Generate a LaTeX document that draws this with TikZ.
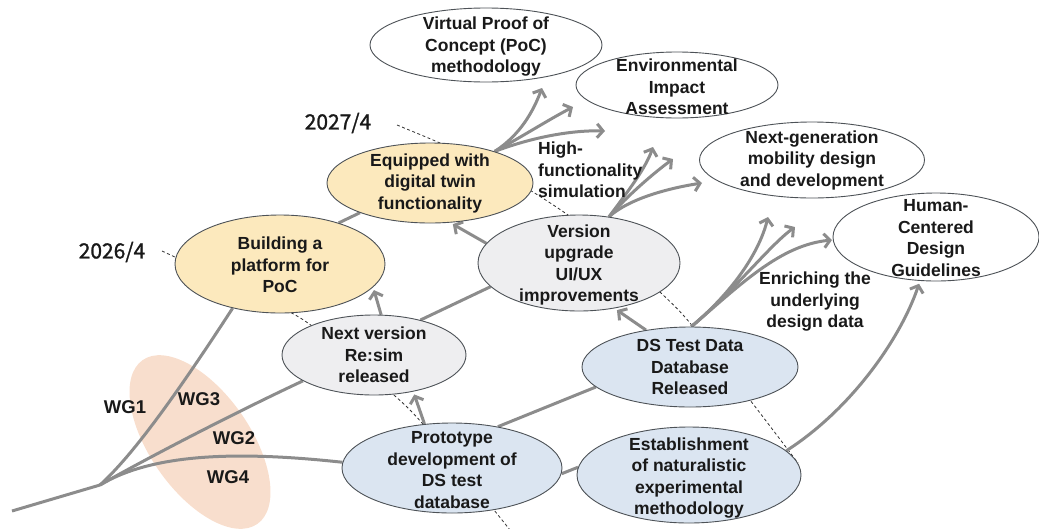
\documentclass[tikz,border=0pt]{standalone}
\usepackage{fontspec}
\setmainfont{Liberation Sans}
\newfontfamily\jpfont[FakeBold=1.2]{Noto Sans CJK JP}
\usetikzlibrary{shapes.geometric,arrows.meta}
\definecolor{lg}{HTML}{8C8C8C}
\definecolor{bord}{HTML}{4D5257}
\definecolor{yel}{HTML}{FCE9BD}
\definecolor{gry}{HTML}{EEEEF0}
\definecolor{blu}{HTML}{DBE5F1}
\definecolor{salm}{HTML}{F8DECD}
\pgfdeclarelayer{bg}
\pgfsetlayers{bg,main}
\begin{document}
\begin{tikzpicture}[x=1pt,y=-1pt,
  ell/.style={ellipse, draw=bord, line width=0.9pt, inner sep=0pt},
  txt/.style={font=\bfseries\fontsize{17.5}{21.5}\selectfont, align=center, inner sep=0pt, text=black!90},
  wg/.style={font=\bfseries\fontsize{18.5}{20}\selectfont, inner sep=0pt, text=black!90},
  dt/.style={font=\jpfont\fontsize{21}{24}\selectfont, inner sep=0pt, text=black!90},
  br/.style={draw=lg, line width=3pt},
  arr/.style={br, -{Straight Barb[length=6pt,width=14pt]}, shorten >=3pt},
  tl/.style={draw=black!80, line width=0.8pt, dash pattern=on 3pt off 2.5pt}]
\useasboundingbox (0,0) rectangle (1039,528);

% ellipses
\node[ell, fill=white, minimum width=232, minimum height=74] (vpoc) at (486,45) {};
\node[txt] (vpocT) at (486,47) {Virtual Proof of\\Concept (PoC)\\methodology};
\node[ell, fill=white, minimum width=202, minimum height=66] (env) at (677,85) {};
\node[txt] (envT) at (677,87) {Environmental\\Impact\\Assessment};
\node[ell, fill=white, minimum width=225, minimum height=76] (nextgen) at (812,160) {};
\node[txt] (nextgenT) at (812,160) {Next-generation\\mobility design\\and development};
\node[ell, fill=white, minimum width=206, minimum height=88] (human) at (936,237) {};
\node[txt] (humanT) at (936,238) {Human-\\Centered\\Design\\Guidelines};
\node[ell, fill=yel, minimum width=206, minimum height=80] (equip) at (430,183) {};
\node[txt] (equipT) at (430,183) {Equipped with\\digital twin\\functionality};
\node[ell, fill=yel, minimum width=210, minimum height=98] (build) at (280,264) {};
\node[txt] (buildT) at (280,265) {Building a\\platform for\\PoC};
\node[ell, fill=gry, minimum width=202, minimum height=96] (verup) at (579,263) {};
\node[txt] (verupT) at (579,265) {Version\\upgrade\\UI/UX\\improvements};
\node[ell, fill=gry, minimum width=184, minimum height=80] (nextver) at (374,355) {};
\node[txt] (nextverT) at (374,355) {Next version\\Re:sim\\released};
\node[ell, fill=blu, minimum width=216, minimum height=80] (dstest) at (690,367) {};
\node[txt] (dstestT) at (690,367) {DS Test Data\\Database\\Released};
\node[ell, fill=blu, minimum width=220, minimum height=90] (proto) at (452,468) {};
\node[txt] (protoT) at (452,470) {Prototype\\development of\\DS test\\database};
\node[ell, fill=blu, minimum width=224, minimum height=96] (estab) at (689,475) {};
\node[txt] (estabT) at (689,478) {Establishment\\of naturalistic\\experimental\\methodology};

% labels
\node[txt, align=left, anchor=west] (hfs) at (538,170) {High-\\functionality\\simulation};
\node[txt] (enr) at (815,302) {Enriching the\\underlying\\design data};
\node[wg] (wg1) at (125,407) {WG1};
\node[wg] (wg3) at (199,399) {WG3};
\node[wg] (wg2) at (234,438) {WG2};
\node[wg] (wg4) at (228,477) {WG4};
\node[dt] (d27) at (338,123) {2027/4};
\node[dt] (d26) at (112,252) {2026/4};

% free ends
\coordinate (root) at (12,511);
\coordinate (jn) at (100,485);
\coordinate (t1) at (542,88);
\coordinate (t2) at (573,107);
\coordinate (t3) at (605,131);
\coordinate (u1) at (653,147);
\coordinate (u2) at (673,159);
\coordinate (u3) at (702,183);
\coordinate (d1) at (768,217);
\coordinate (d2) at (795,227);
\coordinate (d3) at (832,240);

\begin{pgfonlayer}{bg}
\node[ellipse, fill=salm, minimum width=200, minimum height=100, rotate=-55] (wgbg) at (200,442) {};
% timelines
\draw[tl] plot[smooth] coordinates {(162,251) (234,285) (302,319) (352,360) (409,409) (460,468) (510,530)};
\draw[tl] plot[smooth] coordinates {(397,125) (440,143) (490,166) (533,192) (568,215) (615,250) (660,292) (690,323) (750,400) (798,463)};
% branches
\draw[br] (root) -- (jn);
\draw[br] (jn) .. controls (125,462) and (160,420) .. (build.223);
\draw[br] (jn) .. controls (140,462) and (230,415) .. (nextver.200);
\draw[br] (jn) .. controls (150,455) and (230,450) .. (proto.177);
\draw[br] (build.35) -- (equip.203);
\draw[br] (nextver.37) -- (verup.195);
\draw[br] (proto.42) -- (dstest.192);
\draw[br] (proto.357) -- (estab.176);
% arrows
\draw[arr] (nextver.80) -- (build.346);
\draw[arr] (verup.168) -- (equip.297);
\draw[arr] (proto.122) -- (nextver.317);
\draw[arr] (dstest.140) -- (verup.308);
\draw[arr] (estab.14) .. controls (850,410) and (900,340) .. (human.250);
% fans
\draw[arr, shorten >=0pt] (equip.26) .. controls (520,135) and (533,112) .. (t1);
\draw[arr, shorten >=0pt] (equip.26) .. controls (525,135) and (548,120) .. (t2);
\draw[arr, shorten >=0pt] (equip.26) .. controls (530,138) and (570,130) .. (t3);
\draw[arr, shorten >=0pt] (verup.57) .. controls (625,195) and (645,170) .. (u1);
\draw[arr, shorten >=0pt] (verup.57) .. controls (628,195) and (655,172) .. (u2);
\draw[arr, shorten >=0pt] (verup.57) .. controls (630,198) and (670,188) .. (u3);
\draw[arr, shorten >=0pt] (dstest.88) .. controls (735,290) and (760,250) .. (d1);
\draw[arr, shorten >=0pt] (dstest.88) .. controls (735,290) and (770,245) .. (d2);
\draw[arr, shorten >=0pt] (dstest.88) .. controls (740,285) and (780,245) .. (d3);
\end{pgfonlayer}
\end{tikzpicture}
\end{document}
